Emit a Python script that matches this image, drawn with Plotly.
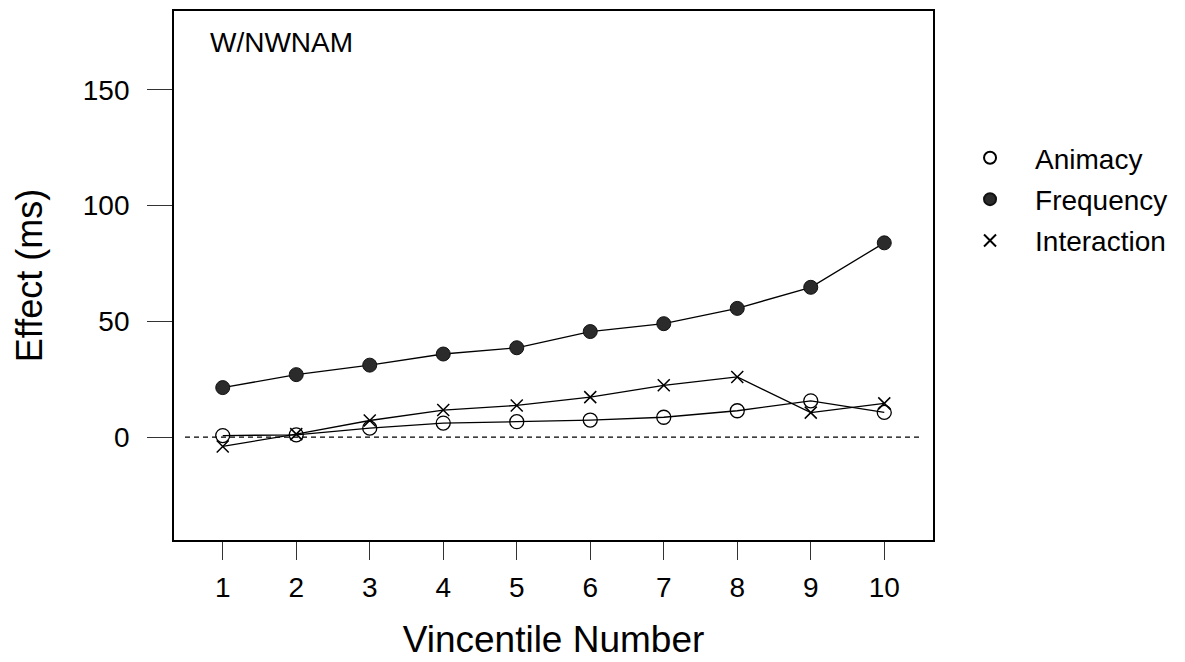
import plotly.graph_objects as go

vincentiles = [1, 2, 3, 4, 5, 6, 7, 8, 9, 10]
animacy = [0.7, 1.0, 3.9, 6.1, 6.7, 7.4, 8.6, 11.4, 15.7, 10.7]
frequency = [21.4, 27.0, 31.1, 35.9, 38.6, 45.6, 49.0, 55.6, 64.7, 83.9]
interaction = [-4.0, 1.3, 7.2, 11.7, 13.7, 17.3, 22.4, 26.0, 10.6, 14.6]
y_ticks = [0, 50, 100, 150]
series_names = ["Animacy", "Frequency", "Interaction"]

FONT = "Liberation Sans, Arial, sans-serif"

markers = [
    dict(symbol="circle-open", size=14, color="black", line=dict(width=1.3, color="black")),
    dict(symbol="circle", size=14, color="#2b2b2b", line=dict(width=1, color="#111")),
    dict(symbol="x-thin-open", size=12, color="black", line=dict(width=1.5, color="black")),
]

fig = go.Figure()
for name, vals, mk in zip(series_names, [animacy, frequency, interaction], markers):
    fig.add_trace(go.Scatter(
        x=vincentiles, y=vals, name=name, mode="lines+markers", showlegend=False,
        line=dict(color="black", width=1.3), marker=mk,
    ))
# legend entries (markers only)
for i, (name, mk) in enumerate(zip(series_names, markers)):
    fig.add_trace(go.Scatter(
        x=[None], y=[None], name=name, mode="markers", marker=mk,
        showlegend=True, legendgroup=f"g{i}",
    ))

fig.add_shape(type="line", xref="paper", yref="y", x0=0.0145, x1=0.985, y0=0, y1=0,
              line=dict(color="black", width=1.2, dash="5px,4px"), layer="below")

fig.add_annotation(text="W/NWNAM", xref="paper", yref="paper", x=0.045, y=0.941,
                   xanchor="left", yanchor="middle", showarrow=False,
                   font=dict(size=28, color="black", family=FONT))

fig.update_layout(
    width=1185, height=662,
    margin=dict(l=174, r=252, t=9, b=120),
    paper_bgcolor="white", plot_bgcolor="white",
    font=dict(family=FONT, color="black"),
    showlegend=True,
    legend=dict(x=0.7975, y=0.799, xanchor="left", yanchor="top", xref="container", yref="container",
                font=dict(size=28, family=FONT), itemsizing="constant", itemwidth=80,
                tracegroupgap=2, bgcolor="rgba(0,0,0,0)"),
    xaxis=dict(range=[0.337, 10.663], tickvals=vincentiles, ticks="outside", ticklen=18,
               tickcolor="#333", tickwidth=1.2, showgrid=False, zeroline=False,
               showline=True, linecolor="black", linewidth=1.8, mirror=True,
               ticklabelstandoff=3,
               tickfont=dict(size=28), title=dict(text="Vincentile Number", font=dict(size=37), standoff=25)),
    yaxis=dict(range=[-44.4, 184.0], tickvals=y_ticks, ticks="outside", ticklen=25,
               tickcolor="#333", tickwidth=1.2, showgrid=False, zeroline=False,
               showline=True, linecolor="black", linewidth=1.8, mirror=True,
               ticklabelstandoff=12,
               tickfont=dict(size=28), title=dict(text="Effect (ms)", font=dict(size=36), standoff=29)),
)

fig.write_html("out.html")
